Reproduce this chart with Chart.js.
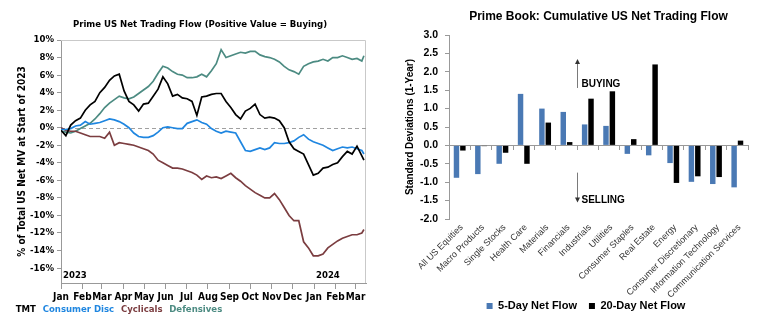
<!DOCTYPE html>
<html>
<head>
<meta charset="utf-8">
<script src="https://cdn.jsdelivr.net/npm/chart.js@4.4.1/dist/chart.umd.min.js"></script>
<style>
  html, body { margin:0; padding:0; background:#fff; width:758px; height:327px; overflow:hidden; }
  canvas { position:absolute; top:0; }
  #flow { left:0; }
  #book { left:380px; }
</style>
</head>
<body>
<canvas id="flow" width="391" height="327"></canvas>
<canvas id="book" width="412" height="327"></canvas>
<script>
// ── Left: cumulative prime net flow by sector group (weekly, % of start-2023 MV) ──
const NARROW = "'DejaVu Sans Condensed', 'Liberation Sans Narrow', sans-serif";
const ARIAL = "'Liberation Sans', Arial, sans-serif";

// days since 1 Jan 2023 (weekly closes, last print mid-March 2024)
const flowDays = [...Array(63).keys()].map(i => i * 7).concat(437);
const monthStarts = [0, 31, 59, 90, 120, 151, 181, 212, 243, 273, 304, 334, 365, 396, 425];
const monthLabels = ['Jan','Feb','Mar','Apr','May','Jun','Jul','Aug','Sep','Oct','Nov','Dec','Jan','Feb','Mar'];
const yearStarts = [0, 365];
const yearLabels = ['2023', '2024'];
const pctTicks = [-16, -14, -12, -10, -8, -6, -4, -2, 0, 2, 4, 6, 8, 10];

const tmt = [
  -0.3, -0.9, 0.3, 0.8, 1.1, 2.0, 2.6, 3.0, 4.0, 4.6, 5.4, 5.9, 6.1, 4.2, 3.0, 2.6,
  1.9, 2.7, 2.8, 3.6, 4.4, 5.8, 5.0, 3.6, 3.8, 3.4, 3.3, 3.0, 1.4, 3.5, 3.6, 3.8,
  3.9, 3.9, 3.0, 2.3, 1.5, 1.0, 1.9, 2.2, 2.7, 1.5, 1.1, 1.2, 1.1, 0.8, 0.0, -1.6,
  -2.4, -2.7, -3.0, -4.2, -5.4, -5.2, -4.6, -4.5, -4.2, -4.0, -3.3, -2.7, -3.0, -2.1, -3.2, -3.7
];
const consumerDisc = [
  -0.2, -0.2, -0.1, 0.2, 0.3, 0.7, 0.4, 0.5, 0.6, 0.8, 1.0, 0.9, 0.7, 0.4, 0.0, -0.6,
  -1.0, -1.1, -1.1, -0.9, -0.5, 0.0, 0.1, 0.0, -0.1, -0.1, 0.5, 0.7, 0.9, 0.6, 0.4, -0.1,
  -0.4, -0.6, -0.4, -0.5, -0.6, -1.6, -2.6, -2.7, -2.5, -2.3, -2.5, -2.3, -1.7, -1.8, -1.8, -1.7,
  -1.5, -1.1, -0.8, -1.3, -1.6, -1.8, -2.0, -2.3, -2.6, -2.4, -2.2, -2.3, -2.2, -2.4, -2.6, -3.0
];
const cyclicals = [
  0.0, -0.3, -0.4, -0.4, -0.6, -0.8, -1.0, -1.0, -1.0, -1.2, -0.5, -2.0, -1.7, -1.8, -1.9, -2.0,
  -2.2, -2.4, -2.6, -3.0, -3.7, -4.0, -4.3, -4.6, -4.6, -4.7, -4.9, -5.1, -5.4, -5.9, -5.5, -5.7,
  -5.6, -5.8, -5.5, -5.2, -5.7, -6.1, -6.6, -7.0, -7.4, -7.7, -8.0, -8.0, -7.5, -8.2, -9.1, -10.0,
  -10.6, -10.6, -13.0, -13.7, -14.6, -14.6, -14.4, -13.7, -13.3, -12.9, -12.6, -12.4, -12.2, -12.2, -12.0, -11.6
];
const defensives = [
  -0.4, -0.5, -0.6, -0.4, -0.1, 0.2, 0.5, 1.0, 1.6, 2.3, 2.8, 3.2, 3.6, 3.4, 3.3, 3.5,
  3.9, 4.3, 4.7, 5.3, 6.2, 7.0, 6.8, 6.4, 6.1, 6.0, 5.7, 5.7, 5.8, 6.1, 5.8, 6.5,
  7.3, 8.9, 8.0, 8.2, 8.4, 8.6, 8.5, 8.7, 8.7, 8.3, 8.1, 8.0, 7.8, 7.5, 7.0, 6.6,
  6.4, 6.1, 7.0, 7.3, 7.5, 7.6, 7.8, 7.6, 8.0, 8.0, 8.2, 8.0, 7.8, 7.9, 7.6, 8.2
];

const narrow = size => ({ family: NARROW, size, weight: 'bold' });

// plot frame, dashed zero line and year markers
const flowFrame = {
  id: 'flowFrame',
  beforeDatasetsDraw(chart) {
    const { ctx, chartArea: a, scales: { x, y } } = chart;
    ctx.save();
    ctx.strokeStyle = '#c9c9c9';
    ctx.lineWidth = 1;
    ctx.beginPath();
    ctx.moveTo(a.left, a.top + 0.5); ctx.lineTo(a.right - 0.5, a.top + 0.5); ctx.lineTo(a.right - 0.5, a.bottom);
    ctx.stroke();
    const y0 = Math.round(y.getPixelForValue(0)) + 0.5;
    ctx.setLineDash([4, 3]);
    ctx.strokeStyle = '#a0a0a0';
    ctx.beginPath(); ctx.moveTo(a.left, y0); ctx.lineTo(a.right, y0); ctx.stroke();
    ctx.setLineDash([]);
    ctx.font = `bold 9.5px ${NARROW}`;
    ctx.fillStyle = '#000';
    ctx.textBaseline = 'middle';
    yearStarts.forEach((d, i) => ctx.fillText(yearLabels[i], x.getPixelForValue(d) + 2, a.bottom - 7));
    ctx.restore();
  }
};

new Chart(document.getElementById('flow'), {
  type: 'line',
  data: {
    labels: flowDays,
    datasets: [
      { label: 'TMT', data: tmt, borderColor: '#000000' },
      { label: 'Consumer Disc', data: consumerDisc, borderColor: '#1f86e0' },
      { label: 'Cyclicals', data: cyclicals, borderColor: '#7b3d40' },
      { label: 'Defensives', data: defensives, borderColor: '#4c8b82' }
    ].map(d => ({ ...d, borderWidth: 1.7, pointRadius: 0, tension: 0, fill: false }))
  },
  options: {
    responsive: false,
    animation: false,
    layout: { padding: { left: 9, right: 0, top: 0, bottom: 2.25 } },
    plugins: {
      title: { display: true, text: 'Prime US Net Trading Flow (Positive Value = Buying)', color: '#000',
               font: narrow(9.5), padding: { top: 19, bottom: 9.6 } },
      legend: {
        position: 'bottom', align: 'start',
        labels: {
          boxWidth: 0, padding: 2, font: narrow(9.5),
          generateLabels: chart => chart.data.datasets.map((d, i) => ({
            text: d.label, fontColor: d.borderColor, fillStyle: 'transparent',
            strokeStyle: 'transparent', lineWidth: 0, datasetIndex: i
          }))
        }
      },
      tooltip: { enabled: false }
    },
    scales: {
      x: {
        type: 'linear', min: 0, max: 440,
        afterBuildTicks: s => { s.ticks = monthStarts.map(v => ({ value: v })); },
        afterFit: s => { s.height = 20.25; },
        grid: { drawOnChartArea: false, tickLength: 6, color: '#999' },
        border: { color: '#999' },
        ticks: { autoSkip: false, maxRotation: 0, padding: 2, color: '#000', font: narrow(10),
                 callback: (v, i) => monthLabels[i] }
      },
      y: {
        min: -17.7, max: 10,
        afterBuildTicks: s => { s.ticks = pctTicks.map(v => ({ value: v })); },
        afterFit: s => { s.width = 52; },
        grid: { drawOnChartArea: false, tickLength: 4, color: '#999' },
        border: { color: '#999' },
        ticks: { padding: 3, color: '#000', font: narrow(9.5), callback: v => v + '%' },
        title: { display: true, text: '% of Total US Net MV at Start of 2023', color: '#000',
                 font: narrow(10), padding: { top: 7.5, bottom: 0 } }
      },
      yr: {
        position: 'right',
        afterFit: s => { s.width = 25; },
        grid: { display: false }, ticks: { display: false }, border: { display: false }
      }
    }
  },
  plugins: [flowFrame]
});

// ── Right: prime book cumulative net flow z-scores by sector ──
const sectors = ['All US Equities', 'Macro Products', 'Single Stocks', 'Health Care', 'Materials',
  'Financials', 'Industrials', 'Utilities', 'Consumer Staples', 'Real Estate', 'Energy',
  'Consumer Discretionary', 'Information Technology', 'Communication Services'];
const flow5d = [-0.88, -0.78, -0.50, 1.40, 1.00, 0.91, 0.57, 0.53, -0.23, -0.27, -0.48, -0.99, -1.05, -1.14];
const flow20d = [-0.14, -0.02, -0.20, -0.50, 0.62, 0.09, 1.27, 1.47, 0.17, 2.20, -1.02, -0.84, -0.86, 0.13];
const sdTicks = [-2, -1.5, -1, -0.5, 0, 0.5, 1, 1.5, 2, 2.5, 3];

// buying / selling arrows sit between Financials and Industrials
const buyArrow = [1.56, 2.35];
const sellArrow = [-0.74, -1.55];

const flowArrows = {
  id: 'flowArrows',
  afterDatasetsDraw(chart) {
    const { ctx, scales: { x, y } } = chart;
    const ax = Math.round((x.getPixelForValue(5) + x.getPixelForValue(6)) / 2) + 0.5;
    const arrow = (from, to) => {
      const y1 = y.getPixelForValue(from), y2 = y.getPixelForValue(to);
      const dir = y2 < y1 ? 1 : -1;
      ctx.beginPath(); ctx.moveTo(ax, y1); ctx.lineTo(ax, y2 + dir * 3); ctx.stroke();
      ctx.beginPath(); ctx.moveTo(ax, y2); ctx.lineTo(ax - 2.5, y2 + dir * 5); ctx.lineTo(ax + 2.5, y2 + dir * 5);
      ctx.closePath(); ctx.fill();
    };
    ctx.save();
    ctx.strokeStyle = '#7a7a7a';
    ctx.fillStyle = '#333';
    ctx.lineWidth = 1;
    arrow(buyArrow[0], buyArrow[1]);
    arrow(sellArrow[0], sellArrow[1]);
    ctx.fillStyle = '#000';
    ctx.font = `bold 10px ${ARIAL}`;
    ctx.textBaseline = 'middle';
    ctx.fillText('BUYING', ax + 4, y.getPixelForValue(1.67));
    ctx.fillText('SELLING', ax + 4, y.getPixelForValue(-1.50));
    ctx.restore();
  }
};

// sector names at 45°, drawn here so the long ones are not clipped by the axis box
const sectorLabels = {
  id: 'sectorLabels',
  afterDraw(chart) {
    const { ctx, chartArea: a, scales: { x } } = chart;
    ctx.save();
    ctx.fillStyle = '#333';
    ctx.font = `9px ${ARIAL}`;
    ctx.textAlign = 'right';
    ctx.textBaseline = 'middle';
    sectors.forEach((name, i) => {
      ctx.save();
      ctx.translate(x.getPixelForValue(i) + 2, a.bottom + 7);
      ctx.rotate(-Math.PI / 4);
      ctx.fillText(name, 0, 0);
      ctx.restore();
    });
    ctx.restore();
  }
};

new Chart(document.getElementById('book'), {
  type: 'bar',
  data: {
    labels: sectors,
    datasets: [
      { label: '5-Day Net Flow', data: flow5d, backgroundColor: '#4a79b4' },
      { label: '20-Day Net Flow', data: flow20d, backgroundColor: '#000000' }
    ].map(d => ({ ...d, xAxisID: 'x', yAxisID: 'y', categoryPercentage: 0.6, barPercentage: 0.85 }))
  },
  options: {
    responsive: false,
    animation: false,
    layout: { padding: { left: 0, right: 0, top: 0, bottom: 5.5 } },
    plugins: {
      title: { display: true, fullSize: false, text: 'Prime Book: Cumulative US Net Trading Flow', color: '#000',
               font: { family: ARIAL, size: 12, weight: 'bold' }, padding: { top: 9, bottom: 11.6 } },
      legend: {
        position: 'bottom',
        labels: { boxWidth: 6, boxHeight: 6, padding: 12, color: '#000',
                  font: { family: ARIAL, size: 11, weight: 'bold' } }
      },
      tooltip: { enabled: false }
    },
    scales: {
      x: {
        afterFit: s => { s.height = 69.5; },
        grid: { display: false }, border: { display: false },
        ticks: { display: false }
      },
      x0: {
        type: 'category', position: { y: 0 }, offset: true,
        grid: { offset: true, drawOnChartArea: false, tickLength: 4, color: '#999' },
        border: { color: '#999' },
        ticks: { callback: () => '' }
      },
      y: {
        min: -2, max: 3,
        afterBuildTicks: s => { s.ticks = sdTicks.map(v => ({ value: v })); },
        afterFit: s => { s.width = 69; },
        grid: { drawOnChartArea: false, tickLength: 4, color: '#999' },
        border: { color: '#999' },
        ticks: { padding: 7, color: '#000', font: { family: ARIAL, size: 10.5, weight: 'bold' },
                 callback: v => v.toFixed(1) },
        title: { display: true, text: 'Standard Deviations (1-Year)', color: '#000',
                 font: { family: ARIAL, size: 10, weight: 'bold' }, padding: { top: 24, bottom: 0 } }
      },
      yr: {
        position: 'right',
        afterFit: s => { s.width = 44; },
        grid: { display: false }, ticks: { display: false }, border: { display: false }
      }
    }
  },
  plugins: [flowArrows, sectorLabels]
});
</script>
</body>
</html>
